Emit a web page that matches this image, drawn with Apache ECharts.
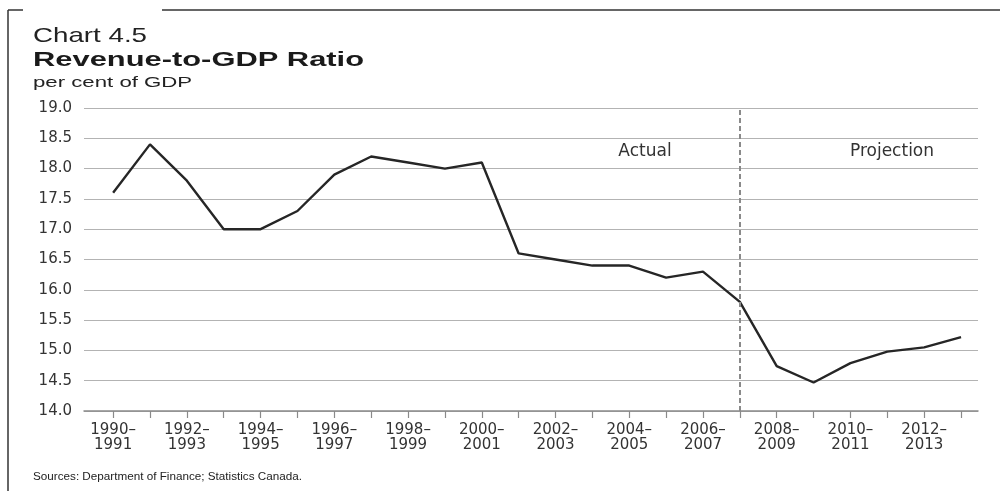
<!DOCTYPE html>
<html>
<head>
<meta charset="utf-8">
<script src="https://cdn.jsdelivr.net/npm/echarts@6/dist/echarts.min.js"></script>
<style>
html,body{margin:0;padding:0;background:#fff;}
#chart{width:1000px;height:491px;}
</style>
</head>
<body>
<div id="chart"></div>
<script>
const fiscalYears = ['1990–1991','1991–1992','1992–1993','1993–1994','1994–1995','1995–1996','1996–1997','1997–1998','1998–1999','1999–2000','2000–2001','2001–2002','2002–2003','2003–2004','2004–2005','2005–2006','2006–2007','2007–2008','2008–2009','2009–2010','2010–2011','2011–2012','2012–2013','2013–2014'];
const revenueToGDP = [17.6, 18.4, 17.8, 17.0, 17.0, 17.3, 17.9, 18.2, 18.1, 18.0, 18.1, 16.6, 16.5, 16.4, 16.4, 16.2, 16.3, 15.8, 14.74, 14.47, 14.79, 14.98, 15.05, 15.22];
const labelledYears = ['1990–1991','1992–1993','1994–1995','1996–1997','1998–1999','2000–2001','2002–2003','2004–2005','2006–2007','2008–2009','2010–2011','2012–2013'];
const projectionStart = '2007–2008';
const yMin = 14.0, yMax = 19.0, yStep = 0.5;

const chart = echarts.init(document.getElementById('chart'));
const tickIdx = fiscalYears.map((_, i) => i);
const labelIdx = labelledYears.map(y => fiscalYears.indexOf(y));
const points = revenueToGDP.map((v, i) => [i, v]);

chart.setOption({
  animation: false,
  backgroundColor: '#fff',
  grid: {left: 84, right: 22, top: 108, bottom: 80, containLabel: false},
  xAxis: {
    type: 'value', min: -0.79, max: 23.46,
    axisLine: {show: true, onZero: false, lineStyle: {color: '#8a8a8a', width: 1.5}},
    axisTick: {show: true, customValues: tickIdx, length: 7, lineStyle: {color: '#8a8a8a', width: 1.2}},
    axisLabel: {
      customValues: labelIdx,
      formatter: v => fiscalYears[Math.round(v)].replace('–', '–\n'),
      fontFamily: 'DejaVu Sans', fontSize: 15, color: '#333', lineHeight: 15, margin: 12
    },
    splitLine: {show: false}
  },
  yAxis: {
    type: 'value', min: yMin, max: yMax, interval: yStep,
    axisLine: {show: false, onZero: false},
    axisTick: {show: false},
    axisLabel: {formatter: v => v.toFixed(1), fontFamily: 'DejaVu Sans', fontSize: 15, color: '#333', margin: 12},
    splitLine: {show: true, lineStyle: {color: '#b3b3b3', width: 1.2}}
  },
  series: [{
    type: 'line',
    data: points,
    symbol: 'none',
    lineStyle: {color: '#262626', width: 2.4},
    markLine: {
      silent: true, symbol: 'none', label: {show: false},
      lineStyle: {color: '#8a8a8a', type: [5, 3], width: 2},
      data: [{xAxis: fiscalYears.indexOf(projectionStart)}]
    }
  }],
  graphic: [
    {type: 'line', shape: {x1: 8, y1: 10, x2: 8, y2: 491}, style: {stroke: '#333', lineWidth: 1.5}},
    {type: 'line', shape: {x1: 8, y1: 10, x2: 23, y2: 10}, style: {stroke: '#333', lineWidth: 1.5}},
    {type: 'line', shape: {x1: 162, y1: 10, x2: 1000, y2: 10}, style: {stroke: '#333', lineWidth: 1.5}},
    {type: 'text', x: 33, y: 36, scaleX: 1.32, style: {text: 'Chart 4.5', font: '21px "Liberation Sans"', fill: '#222', verticalAlign: 'middle'}},
    {type: 'text', x: 33, y: 60, scaleX: 1.47, style: {text: 'Revenue-to-GDP Ratio', font: 'bold 21px "Liberation Sans"', fill: '#1a1a1a', verticalAlign: 'middle'}},
    {type: 'text', x: 33, y: 83, scaleX: 1.48, style: {text: 'per cent of GDP', font: '15px "Liberation Sans"', fill: '#222', verticalAlign: 'middle'}},
    {type: 'text', x: 645, y: 152, style: {text: 'Actual', font: '17px "DejaVu Sans"', fill: '#333', align: 'center', verticalAlign: 'middle'}},
    {type: 'text', x: 892, y: 152, style: {text: 'Projection', font: '17px "DejaVu Sans"', fill: '#333', align: 'center', verticalAlign: 'middle'}},
    {type: 'text', x: 33, y: 477, style: {text: 'Sources: Department of Finance; Statistics Canada.', font: '11.7px "Liberation Sans"', fill: '#222', verticalAlign: 'middle'}}
  ]
});
</script>
</body>
</html>
